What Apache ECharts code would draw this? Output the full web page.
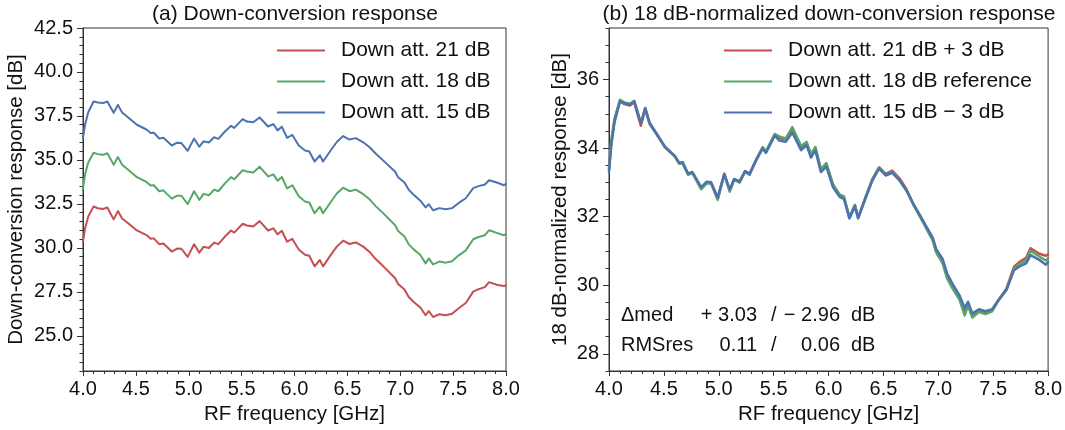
<!DOCTYPE html>
<html>
<head>
<meta charset="utf-8">
<script src="https://cdn.jsdelivr.net/npm/echarts@6/dist/echarts.min.js"></script>
<style>
html,body{margin:0;padding:0;background:#fff;}
#chart{width:1065px;height:430px;}
</style>
</head>
<body>
<div id="chart"></div>
<script>
// RF frequency grid [GHz]
const freq = [4.00,4.02,4.05,4.10,4.14,4.19,4.23,4.26,4.29,4.33,4.37,4.43,4.51,4.60,4.64,4.67,4.72,4.76,4.84,4.89,4.93,4.99,5.05,5.10,5.14,5.19,5.24,5.28,5.34,5.40,5.43,5.51,5.55,5.61,5.67,5.75,5.80,5.84,5.88,5.93,5.98,6.04,6.10,6.14,6.19,6.24,6.27,6.34,6.40,6.46,6.52,6.58,6.65,6.71,6.77,6.84,6.95,6.98,7.04,7.08,7.13,7.19,7.24,7.27,7.31,7.37,7.43,7.49,7.55,7.62,7.69,7.74,7.80,7.84,7.92,7.98,8.00];

// (a) raw down-conversion response [dB]
const att21 = [30.37,31.12,31.79,32.35,32.25,32.21,32.30,31.95,31.62,32.09,31.67,31.39,30.99,30.73,30.52,30.54,30.21,30.25,29.79,29.96,29.95,29.49,30.21,29.73,30.06,29.99,30.30,30.21,30.63,30.99,30.87,31.37,31.27,31.22,31.52,30.99,31.11,30.77,30.97,30.35,30.51,29.91,29.61,29.55,28.95,29.31,28.95,29.57,30.07,30.41,30.22,30.31,30.07,29.77,29.35,28.95,28.29,27.95,27.63,27.21,26.91,26.61,26.17,26.41,26.07,26.23,26.17,26.25,26.55,26.87,27.51,27.65,27.77,28.05,27.89,27.83,27.87];
const att18 = [33.35,34.2,34.85,35.41,35.33,35.29,35.38,35.06,34.73,35.16,34.73,34.43,34.02,33.75,33.54,33.56,33.22,33.27,32.80,32.97,32.97,32.49,33.22,32.73,33.07,32.99,33.31,33.22,33.65,34.02,33.90,34.41,34.34,34.28,34.61,34.06,34.18,33.82,34.03,33.38,33.56,32.94,32.64,32.58,31.97,32.34,31.97,32.58,33.09,33.42,33.22,33.31,33.05,32.76,32.36,31.96,31.30,30.96,30.64,30.20,29.90,29.60,29.12,29.40,29.06,29.22,29.16,29.24,29.56,29.86,30.49,30.62,30.72,31.00,30.84,30.72,30.78];
const att15 = [36.26,37.01,37.71,38.32,38.26,38.23,38.32,38.00,37.68,38.13,37.70,37.40,37.00,36.73,36.53,36.55,36.22,36.26,35.82,35.98,35.96,35.52,36.21,35.75,36.06,35.99,36.29,36.20,36.60,36.94,36.82,37.32,37.18,37.14,37.41,36.90,37.04,36.68,36.89,36.26,36.42,35.82,35.54,35.48,34.91,35.26,34.91,35.52,36.02,36.36,36.16,36.24,36.00,35.72,35.35,34.96,34.34,34.02,33.72,33.30,33.00,32.68,32.30,32.48,32.14,32.26,32.20,32.26,32.54,32.82,33.40,33.51,33.60,33.84,33.70,33.56,33.64];

// (b) 18 dB-normalized response [dB]
const norm21 = [33.4,34.15,34.82,35.38,35.28,35.24,35.33,34.98,34.65,35.12,34.70,34.42,34.02,33.76,33.55,33.57,33.24,33.28,32.82,32.99,32.98,32.52,33.24,32.76,33.09,33.02,33.33,33.24,33.66,34.02,33.90,34.40,34.30,34.25,34.55,34.02,34.14,33.80,34.00,33.38,33.54,32.94,32.64,32.58,31.98,32.34,31.98,32.60,33.10,33.44,33.25,33.34,33.10,32.80,32.38,31.98,31.32,30.98,30.66,30.24,29.94,29.64,29.20,29.44,29.10,29.26,29.20,29.28,29.58,29.90,30.54,30.68,30.80,31.08,30.92,30.86,30.90];
const norm18 = [33.35,34.2,34.85,35.41,35.33,35.29,35.38,35.06,34.73,35.16,34.73,34.43,34.02,33.75,33.54,33.56,33.22,33.27,32.80,32.97,32.97,32.49,33.22,32.73,33.07,32.99,33.31,33.22,33.65,34.02,33.90,34.41,34.34,34.28,34.61,34.06,34.18,33.82,34.03,33.38,33.56,32.94,32.64,32.58,31.97,32.34,31.97,32.58,33.09,33.42,33.22,33.31,33.05,32.76,32.36,31.96,31.30,30.96,30.64,30.20,29.90,29.60,29.12,29.40,29.06,29.22,29.16,29.24,29.56,29.86,30.49,30.62,30.72,31.00,30.84,30.72,30.78];
const norm15 = [33.3,34.05,34.75,35.36,35.30,35.27,35.36,35.04,34.72,35.17,34.74,34.44,34.04,33.77,33.57,33.59,33.26,33.30,32.86,33.02,33.00,32.56,33.25,32.79,33.10,33.03,33.33,33.24,33.64,33.98,33.86,34.36,34.22,34.18,34.45,33.94,34.08,33.72,33.93,33.30,33.46,32.86,32.58,32.52,31.95,32.30,31.95,32.56,33.06,33.40,33.20,33.28,33.04,32.76,32.39,32.00,31.38,31.06,30.76,30.34,30.04,29.72,29.34,29.52,29.18,29.30,29.24,29.30,29.58,29.86,30.44,30.55,30.64,30.88,30.74,30.60,30.68];

const namesA = ['Down att. 21 dB','Down att. 18 dB','Down att. 15 dB'];
const namesB = ['Down att. 21 dB + 3 dB','Down att. 18 dB reference','Down att. 15 dB \u2212 3 dB'];
const titles = ['(a) Down-conversion response','(b) 18 dB-normalized down-conversion response'];
const yTicksA = [25.0,27.5,30.0,32.5,35.0,37.5,40.0,42.5];
const yTicksB = [28,30,32,34,36];
const statRows = [['\u0394med','+ 3.03','/','\u2212 2.96','dB'],['RMSres','0.11','/','0.06','dB']];

const colors = ['#C44E52','#55A868','#4C72B0'];
const FONT = 'Liberation Sans, Arial, sans-serif';
const TXT = '#111';
const AX = '#333';

function pairs(ys){ return freq.map((f,i)=>[f, ys[i]]); }

const grids = [
  {left:83, right:559, top:28, bottom:59, show:true, borderColor:AX, borderWidth:1},
  {left:609, right:16, top:28, bottom:59, show:true, borderColor:AX, borderWidth:1}
];

function xAx(gi){
  return {type:'value', gridIndex:gi, min:4, max:8, interval:0.5,
    name:'RF frequency [GHz]', nameLocation:'middle', nameGap:30,
    nameTextStyle:{fontFamily:FONT, fontSize:20.5, color:TXT},
    axisLine:{lineStyle:{color:AX, width:1}},
    axisTick:{length:5, lineStyle:{color:AX}},
    minorTick:{show:true, splitNumber:5, length:3, lineStyle:{color:AX}},
    axisLabel:{fontFamily:FONT, fontSize:20, color:TXT, margin:8, formatter:v=>v.toFixed(1)},
    splitLine:{show:false}};
}
function yMajor(gi, min, max, ticks, name, gap, dec){
  return {type:'value', gridIndex:gi, min:min, max:max, position:'left',
    name:name, nameLocation:'middle', nameGap:gap,
    nameTextStyle:{fontFamily:FONT, fontSize:20.5, color:TXT},
    axisLine:{show:true, lineStyle:{color:AX, width:1}},
    axisTick:{show:true, length:6, customValues:ticks, lineStyle:{color:AX}},
    axisLabel:{fontFamily:FONT, fontSize:20, color:TXT, margin:10, customValues:ticks, formatter:v=>v.toFixed(dec)},
    splitLine:{show:false}};
}
function yMinor(gi, min, max){
  return {type:'value', gridIndex:gi, min:min, max:max, interval:0.5, position:'left',
    axisLine:{show:false}, axisLabel:{show:false}, splitLine:{show:false},
    axisTick:{show:true, length:3.5, lineStyle:{color:AX}}};
}

function lineSeries(name, data, c, xi, yi, w){
  return {type:'line', name:name, xAxisIndex:xi, yAxisIndex:yi, data:pairs(data),
    symbol:'none', showSymbol:false, lineStyle:{color:c, width:w, join:'round', cap:'round'}, itemStyle:{color:c},
    emphasis:{disabled:true}, animation:false};
}

const statGraphics = [];
const colX = [621, 757, 771, 840, 851];
const colAlign = ['left','right','left','right','left'];
const rowY = [315, 345];
statRows.forEach((row, r)=>{
  row.forEach((t, c)=>{
    statGraphics.push({type:'text', x:colX[c], y:rowY[r],
      style:{text:t, font:'20px '+FONT, fill:TXT, textAlign:colAlign[c], textVerticalAlign:'middle'}});
  });
});

const legendIcon = 'path://M0,0 L48,0 L48,2 L0,2 Z';
function legendCfg(names, left){
  return {data:names, left:left, top:40, orient:'vertical', padding:0, itemWidth:48, itemHeight:20, itemGap:10,
    icon:legendIcon, selectedMode:false,
    textStyle:{fontFamily:FONT, fontSize:21, lineHeight:20, color:TXT, padding:[0,0,0,11]}};
}

const option = {
  animation:false,
  backgroundColor:'#fff',
  title:[
    {text:titles[0], left:295, top:4, padding:0, textAlign:'center', textStyle:{fontFamily:FONT, fontSize:21, fontWeight:'normal', color:TXT}},
    {text:titles[1], left:829, top:4, padding:0, textAlign:'center', textStyle:{fontFamily:FONT, fontSize:21, fontWeight:'normal', color:TXT}}
  ],
  grid:grids,
  legend:[legendCfg(namesA, 277), legendCfg(namesB, 724)],
  xAxis:[xAx(0), xAx(1)],
  yAxis:[
    yMajor(0, 23, 42.5, yTicksA, 'Down-conversion response [dB]', 56, 1),
    yMinor(0, 23, 42.5),
    yMajor(1, 27.5, 37.5, yTicksB, '18 dB-normalized response [dB]', 38, 0),
    yMinor(1, 27.5, 37.5)
  ],
  series:[
    lineSeries(namesA[0], att21, colors[0], 0, 0, 2),
    lineSeries(namesA[1], att18, colors[1], 0, 0, 2),
    lineSeries(namesA[2], att15, colors[2], 0, 0, 2),
    lineSeries(namesB[0], norm21, colors[0], 1, 2, 2.5),
    lineSeries(namesB[1], norm18, colors[1], 1, 2, 2.5),
    lineSeries(namesB[2], norm15, colors[2], 1, 2, 2.5)
  ],
  graphic:statGraphics
};

const chart = echarts.init(document.getElementById('chart'), null, {renderer:'canvas'});
chart.setOption(option);
</script>
</body>
</html>
